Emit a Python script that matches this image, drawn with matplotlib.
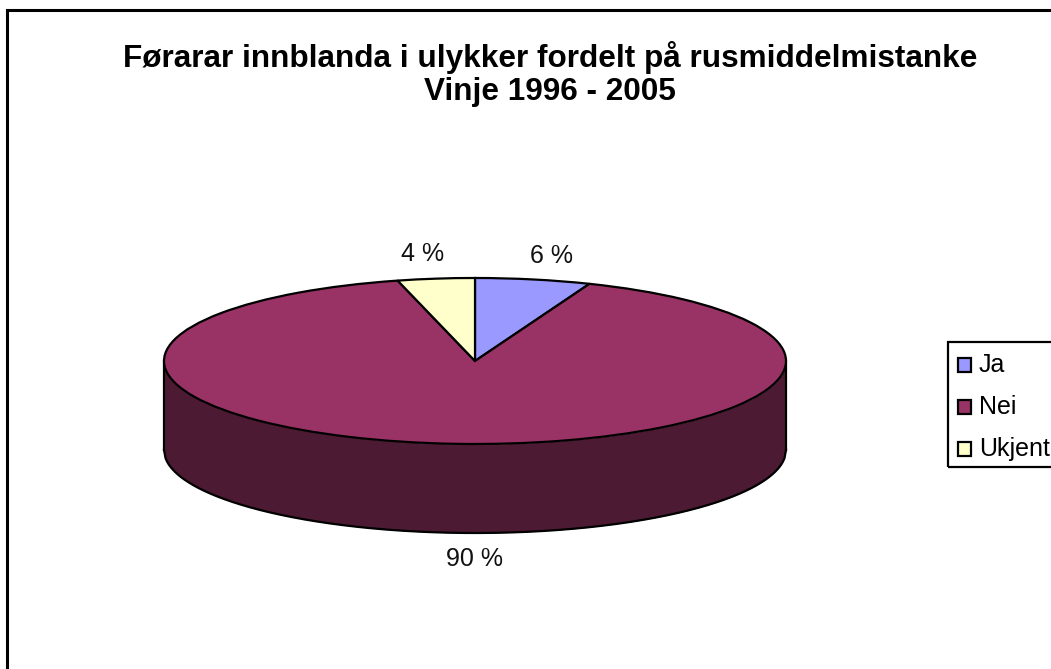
import numpy as np
import matplotlib
matplotlib.use('Agg')
import matplotlib.pyplot as plt
from matplotlib.patches import Rectangle

plt.rcParams['font.family'] = ['Liberation Sans', 'DejaVu Sans']

labels = ['Ja', 'Nei', 'Ukjent']
values = [6, 90, 4]
pct_text = ['6 %', '90 %', '4 %']
colors = ['#9999FF', '#993366', '#FFFFCC']
side_color = '#4D1A33'

W, H = 1051, 669
fig = plt.figure(figsize=(W / 100, H / 100), dpi=100)

# pie is drawn in unit circle, the axes limits squash it to an ellipse
cx, cy, rx, ry = 475, 361, 311, 83
depth = 89 / ry
ax = fig.add_axes([0, 0, 1, 1])
ax.pie(values, colors=colors, startangle=90, counterclock=False, radius=1,
       wedgeprops=dict(edgecolor='black', linewidth=1.6))
ax.set_aspect('auto')
ax.set_xlim(-cx / rx, (W - cx) / rx)
ax.set_ylim((cy - H) / ry, cy / ry)
ax.axis('off')

# side wall of the disc
x = np.linspace(-1, 1, 400)
lower = -np.sqrt(1 - x ** 2)
ax.fill_between(x, lower, lower - depth, color=side_color, lw=0, zorder=0.5)
ax.plot(x, lower - depth, color='black', lw=1.6, zorder=0.6)
ax.plot([-1, -1], [0, -depth], color='black', lw=1.6, zorder=0.6)
ax.plot([1, 1], [0, -depth], color='black', lw=1.6, zorder=0.6)

# percent labels
fig.text(552 / W, 1 - 256 / H, pct_text[0], fontsize=18, ha='center', va='center', color='#111111')
fig.text(474 / W, 1 - 559 / H, pct_text[1], fontsize=18, ha='center', va='center', color='#111111')
fig.text(423 / W, 1 - 254 / H, pct_text[2], fontsize=18, ha='center', va='center', color='#111111')

# title
fig.text(550 / W, 1 - 57 / H, 'Førarar innblanda i ulykker fordelt på rusmiddelmistanke',
         fontsize=22.7, fontweight='bold', ha='center', va='center')
fig.text(550 / W, 1 - 92 / H, 'Vinje 1996 - 2005',
         fontsize=22.7, fontweight='bold', ha='center', va='center')

# chart frame, runs off the right and bottom edge
fig.add_artist(Rectangle((6.5 / W, -0.05), 1.1, 1 - 9.5 / H + 0.05, transform=fig.transFigure,
                         fill=False, edgecolor='black', linewidth=2.2))

# legend box, also clipped on the right
fig.add_artist(Rectangle((947.5 / W, 1 - 467 / H), 0.2, 125 / H, transform=fig.transFigure,
                         fill=False, edgecolor='black', linewidth=1.6))
for i, name in enumerate(labels):
    mid = 365 + 42 * i
    fig.add_artist(Rectangle((957.5 / W, 1 - (mid + 7) / H), 13 / W, 14 / H, transform=fig.transFigure,
                             facecolor=colors[i], edgecolor='black', linewidth=1.6))
    fig.text(979 / W, 1 - mid / H, name, fontsize=18, ha='left', va='center')

fig.savefig('out.png', dpi=100)
